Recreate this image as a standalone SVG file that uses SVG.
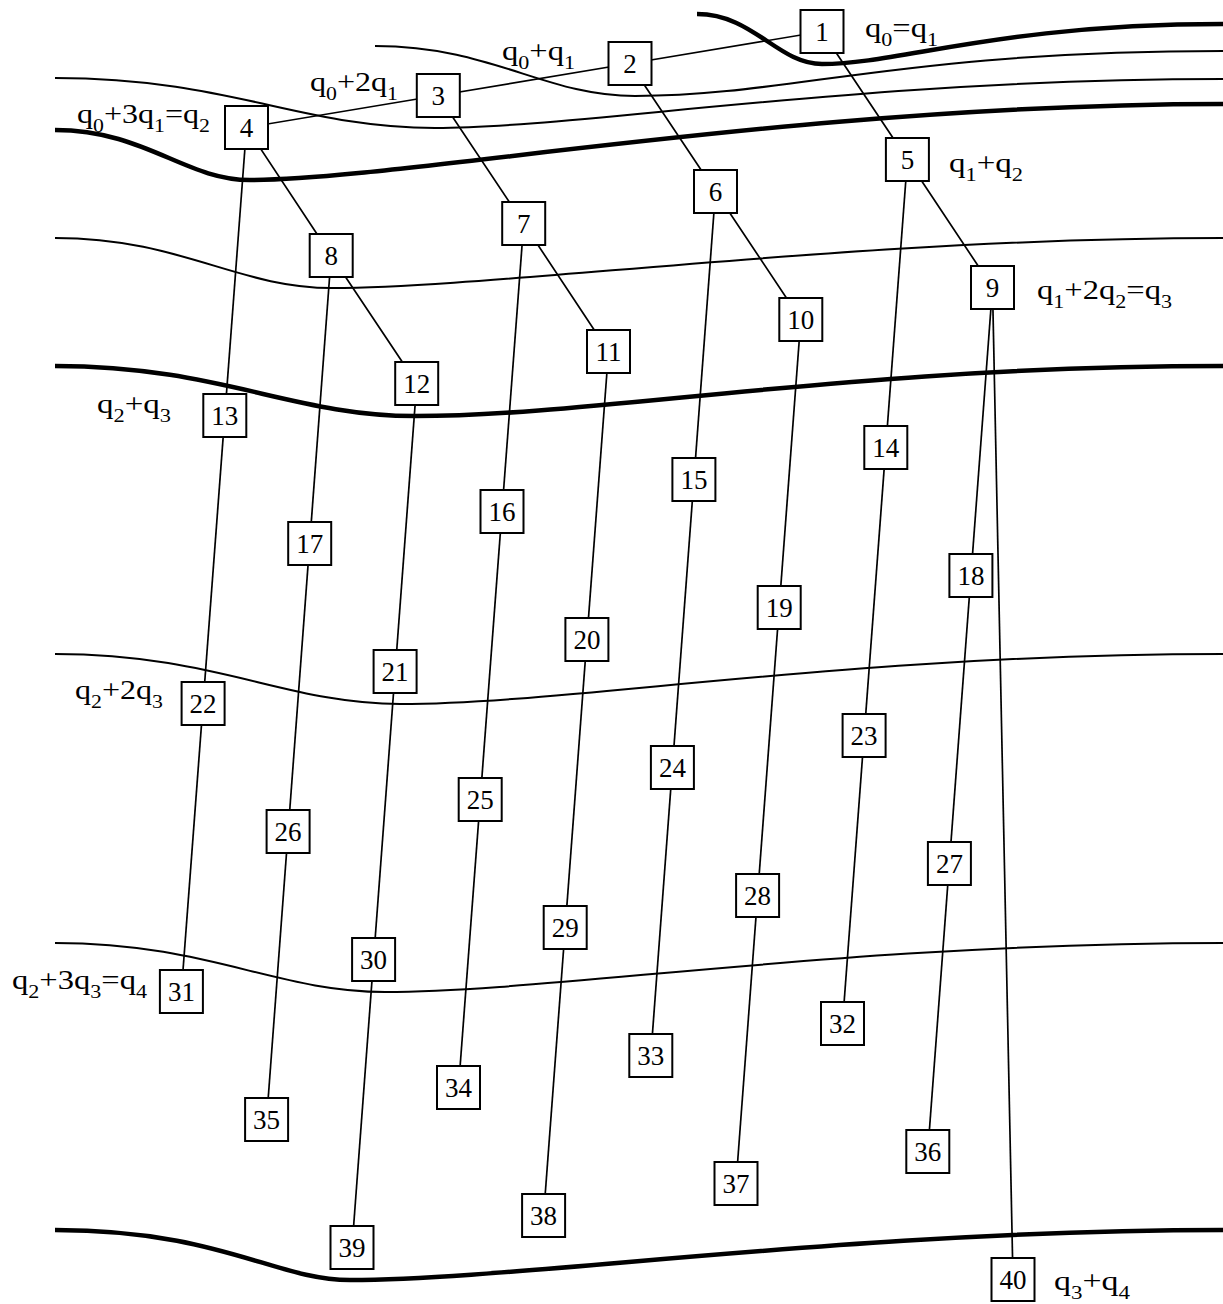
<svg xmlns="http://www.w3.org/2000/svg" width="1223" height="1304" viewBox="0 0 1223 1304" font-family="'Liberation Serif', 'Times New Roman', Times, serif">
<style>
.bg{fill:#fff}
.thin{fill:none;stroke:#000;stroke-width:2}
.thick{fill:none;stroke:#000;stroke-width:4.5}
.edge{stroke:#000;stroke-width:1.7;fill:none}
.node rect{fill:#fff;stroke:#000;stroke-width:2}
.node text{font-family:'Liberation Serif','Times New Roman',Times,serif;font-size:27px;text-anchor:middle;fill:#000}
.lbl{font-family:'Liberation Serif','Times New Roman',Times,serif;font-size:28px;fill:#000}
.s{font-size:19px}
</style>
<rect class="bg" x="0" y="0" width="1223" height="1304"/>
<g id="curves">
<path class="thick" d="M 697 14 C 753 14 778 64 822 64 C 900 64 1000 24 1223 24"/>
<path class="thin" d="M 375 46 C 492 46 544 96 635 96 C 790 96 900 51 1223 51"/>
<path class="thin" d="M 55 78 C 230 78 300 128 435 128 C 580 128 860 79 1223 79"/>
<path class="thick" d="M 55 130 C 145 130 185 180 250 180 C 400 180 800 104 1223 104"/>
<path class="thin" d="M 55 238 C 181 238 237 288 332 288 C 500 288 850 238 1223 238"/>
<path class="thick" d="M 55 366 C 219 366 292 416 415 416 C 600 416 850 366 1223 366"/>
<path class="thin" d="M 55 654 C 215 654 286 704 400 704 C 570 704 850 654 1223 654"/>
<path class="thin" d="M 55 943 C 208 943 276 992 385 992 C 550 992 850 943 1223 943"/>
<path class="thick" d="M 55 1230 C 220 1230 275 1280 350 1280 C 520 1280 850 1230 1223 1230"/>
</g>
<g id="connectors" class="edge">
<polyline points="822,31.5 630,63.5 438.3,95.5 246.5,127.5"/>
<polyline points="822,31.5 907.4,159.5 992.5,287.5"/>
<polyline points="630,63.5 715.5,191.5 800.8,319.5"/>
<polyline points="438.3,95.5 523.7,223.5 608.5,351.5"/>
<polyline points="246.5,127.5 331.2,255.5 416.7,383.5"/>
<line x1="246.5" y1="127.5" x2="181.4" y2="991.5"/>
<line x1="331.2" y1="255.5" x2="266.6" y2="1119.5"/>
<line x1="416.7" y1="383.5" x2="352" y2="1247.5"/>
<line x1="523.7" y1="223.5" x2="458.5" y2="1087.5"/>
<line x1="608.5" y1="351.5" x2="543.6" y2="1215.5"/>
<line x1="715.5" y1="191.5" x2="650.8" y2="1055.5"/>
<line x1="800.8" y1="319.5" x2="736" y2="1183.5"/>
<line x1="907.4" y1="159.5" x2="842.5" y2="1023.5"/>
<line x1="992.5" y1="287.5" x2="927.8" y2="1151.5"/>
<line x1="992.5" y1="287.5" x2="1013" y2="1279.5"/>
</g>
<g id="n1" class="node"><rect x="800.5" y="10" width="43" height="43"/><text x="822" y="40.5">1</text></g>
<g id="n2" class="node"><rect x="608.5" y="42" width="43" height="43"/><text x="630" y="72.5">2</text></g>
<g id="n3" class="node"><rect x="416.8" y="74" width="43" height="43"/><text x="438.3" y="104.5">3</text></g>
<g id="n4" class="node"><rect x="225" y="106" width="43" height="43"/><text x="246.5" y="136.5">4</text></g>
<g id="n5" class="node"><rect x="885.9" y="138" width="43" height="43"/><text x="907.4" y="168.5">5</text></g>
<g id="n6" class="node"><rect x="694" y="170" width="43" height="43"/><text x="715.5" y="200.5">6</text></g>
<g id="n7" class="node"><rect x="502.2" y="202" width="43" height="43"/><text x="523.7" y="232.5">7</text></g>
<g id="n8" class="node"><rect x="309.7" y="234" width="43" height="43"/><text x="331.2" y="264.5">8</text></g>
<g id="n9" class="node"><rect x="971" y="266" width="43" height="43"/><text x="992.5" y="296.5">9</text></g>
<g id="n10" class="node"><rect x="779.3" y="298" width="43" height="43"/><text x="800.8" y="328.5">10</text></g>
<g id="n11" class="node"><rect x="587" y="330" width="43" height="43"/><text x="608.5" y="360.5">11</text></g>
<g id="n12" class="node"><rect x="395.2" y="362" width="43" height="43"/><text x="416.7" y="392.5">12</text></g>
<g id="n13" class="node"><rect x="203.3" y="394" width="43" height="43"/><text x="224.8" y="424.5">13</text></g>
<g id="n14" class="node"><rect x="864.3" y="426" width="43" height="43"/><text x="885.8" y="456.5">14</text></g>
<g id="n15" class="node"><rect x="672.4" y="458" width="43" height="43"/><text x="693.9" y="488.5">15</text></g>
<g id="n16" class="node"><rect x="480.5" y="490" width="43" height="43"/><text x="502" y="520.5">16</text></g>
<g id="n17" class="node"><rect x="288.2" y="522" width="43" height="43"/><text x="309.7" y="552.5">17</text></g>
<g id="n18" class="node"><rect x="949.4" y="554" width="43" height="43"/><text x="970.9" y="584.5">18</text></g>
<g id="n19" class="node"><rect x="757.7" y="586" width="43" height="43"/><text x="779.2" y="616.5">19</text></g>
<g id="n20" class="node"><rect x="565.4" y="618" width="43" height="43"/><text x="586.9" y="648.5">20</text></g>
<g id="n21" class="node"><rect x="373.6" y="650" width="43" height="43"/><text x="395.1" y="680.5">21</text></g>
<g id="n22" class="node"><rect x="181.6" y="682" width="43" height="43"/><text x="203.1" y="712.5">22</text></g>
<g id="n23" class="node"><rect x="842.6" y="714" width="43" height="43"/><text x="864.1" y="744.5">23</text></g>
<g id="n24" class="node"><rect x="650.9" y="746" width="43" height="43"/><text x="672.4" y="776.5">24</text></g>
<g id="n25" class="node"><rect x="458.7" y="778" width="43" height="43"/><text x="480.2" y="808.5">25</text></g>
<g id="n26" class="node"><rect x="266.6" y="810" width="43" height="43"/><text x="288.1" y="840.5">26</text></g>
<g id="n27" class="node"><rect x="927.9" y="842" width="43" height="43"/><text x="949.4" y="872.5">27</text></g>
<g id="n28" class="node"><rect x="736.1" y="874" width="43" height="43"/><text x="757.6" y="904.5">28</text></g>
<g id="n29" class="node"><rect x="543.7" y="906" width="43" height="43"/><text x="565.2" y="936.5">29</text></g>
<g id="n30" class="node"><rect x="352.1" y="938" width="43" height="43"/><text x="373.6" y="968.5">30</text></g>
<g id="n31" class="node"><rect x="159.9" y="970" width="43" height="43"/><text x="181.4" y="1000.5">31</text></g>
<g id="n32" class="node"><rect x="821" y="1002" width="43" height="43"/><text x="842.5" y="1032.5">32</text></g>
<g id="n33" class="node"><rect x="629.3" y="1034" width="43" height="43"/><text x="650.8" y="1064.5">33</text></g>
<g id="n34" class="node"><rect x="437" y="1066" width="43" height="43"/><text x="458.5" y="1096.5">34</text></g>
<g id="n35" class="node"><rect x="245.1" y="1098" width="43" height="43"/><text x="266.6" y="1128.5">35</text></g>
<g id="n36" class="node"><rect x="906.3" y="1130" width="43" height="43"/><text x="927.8" y="1160.5">36</text></g>
<g id="n37" class="node"><rect x="714.5" y="1162" width="43" height="43"/><text x="736" y="1192.5">37</text></g>
<g id="n38" class="node"><rect x="522.1" y="1194" width="43" height="43"/><text x="543.6" y="1224.5">38</text></g>
<g id="n39" class="node"><rect x="330.5" y="1226" width="43" height="43"/><text x="352" y="1256.5">39</text></g>
<g id="n40" class="node"><rect x="991.5" y="1258" width="43" height="43"/><text x="1013" y="1288.5">40</text></g>
<g id="labels">
<text class="lbl" x="865" y="37" textLength="73" lengthAdjust="spacingAndGlyphs">q<tspan class="s" dy="9">0</tspan><tspan dy="-9">=q</tspan><tspan class="s" dy="9">1</tspan></text>
<text class="lbl" x="502" y="60" textLength="73" lengthAdjust="spacingAndGlyphs">q<tspan class="s" dy="9">0</tspan><tspan dy="-9">+q</tspan><tspan class="s" dy="9">1</tspan></text>
<text class="lbl" x="310" y="91" textLength="88" lengthAdjust="spacingAndGlyphs">q<tspan class="s" dy="9">0</tspan><tspan dy="-9">+2q</tspan><tspan class="s" dy="9">1</tspan></text>
<text class="lbl" x="77" y="123" textLength="133" lengthAdjust="spacingAndGlyphs">q<tspan class="s" dy="9">0</tspan><tspan dy="-9">+3q</tspan><tspan class="s" dy="9">1</tspan><tspan dy="-9">=q</tspan><tspan class="s" dy="9">2</tspan></text>
<text class="lbl" x="949" y="172" textLength="74" lengthAdjust="spacingAndGlyphs">q<tspan class="s" dy="9">1</tspan><tspan dy="-9">+q</tspan><tspan class="s" dy="9">2</tspan></text>
<text class="lbl" x="1037" y="299" textLength="135" lengthAdjust="spacingAndGlyphs">q<tspan class="s" dy="9">1</tspan><tspan dy="-9">+2q</tspan><tspan class="s" dy="9">2</tspan><tspan dy="-9">=q</tspan><tspan class="s" dy="9">3</tspan></text>
<text class="lbl" x="97" y="413" textLength="74" lengthAdjust="spacingAndGlyphs">q<tspan class="s" dy="9">2</tspan><tspan dy="-9">+q</tspan><tspan class="s" dy="9">3</tspan></text>
<text class="lbl" x="75" y="699" textLength="88" lengthAdjust="spacingAndGlyphs">q<tspan class="s" dy="9">2</tspan><tspan dy="-9">+2q</tspan><tspan class="s" dy="9">3</tspan></text>
<text class="lbl" x="12" y="989" textLength="135" lengthAdjust="spacingAndGlyphs">q<tspan class="s" dy="9">2</tspan><tspan dy="-9">+3q</tspan><tspan class="s" dy="9">3</tspan><tspan dy="-9">=q</tspan><tspan class="s" dy="9">4</tspan></text>
<text class="lbl" x="1054" y="1290" textLength="76" lengthAdjust="spacingAndGlyphs">q<tspan class="s" dy="9">3</tspan><tspan dy="-9">+q</tspan><tspan class="s" dy="9">4</tspan></text>
</g>
</svg>
